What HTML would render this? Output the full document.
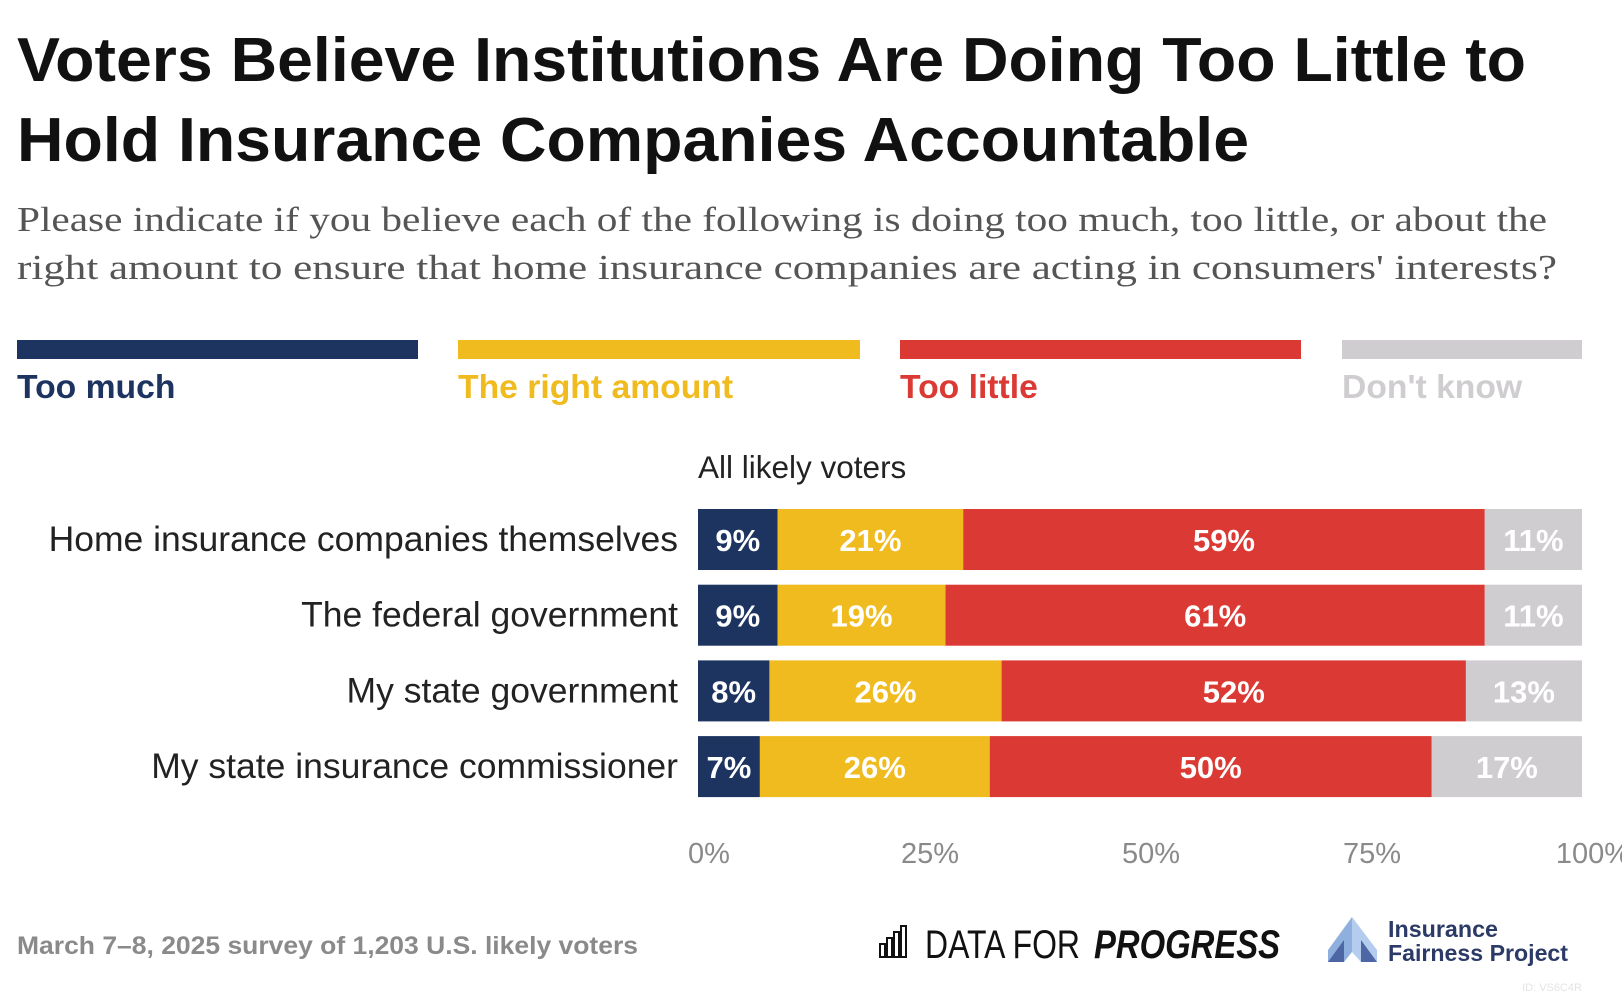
<!DOCTYPE html>
<html><head><meta charset="utf-8">
<style>
html,body{margin:0;padding:0;background:#fff;}
svg{display:block;font-family:"Liberation Sans",sans-serif;}
</style></head>
<body>
<svg id="chart" width="1622" height="998" viewBox="0 0 1622 998" xmlns="http://www.w3.org/2000/svg">
  <text x="17" y="81" font-size="62" font-weight="bold" fill="#111" textLength="1509" lengthAdjust="spacingAndGlyphs">Voters Believe Institutions Are Doing Too Little to</text>
  <text x="17" y="161" font-size="62" font-weight="bold" fill="#111" textLength="1232" lengthAdjust="spacingAndGlyphs">Hold Insurance Companies Accountable</text>
  <text x="17" y="231" font-size="35" fill="#555" font-family="Liberation Serif, serif" textLength="1530" lengthAdjust="spacingAndGlyphs">Please indicate if you believe each of the following is doing too much, too little, or about the</text>
  <text x="17" y="279" font-size="35" fill="#555" font-family="Liberation Serif, serif" textLength="1540" lengthAdjust="spacingAndGlyphs">right amount to ensure that home insurance companies are acting in consumers' interests?</text>
  <g id="legend"></g>
  <text x="698" y="478" font-size="31.5" fill="#222">All likely voters</text>
  <g id="bars"></g>
  <g id="axis"></g>
  <text x="17" y="954" font-size="25" font-weight="bold" fill="#8a8a8a" textLength="621" lengthAdjust="spacingAndGlyphs">March 7–8, 2025 survey of 1,203 U.S. likely voters</text>
  <g>
    <g fill="none" stroke="#111" stroke-width="2">
      <rect x="880" y="944" width="5" height="13"/>
      <rect x="887" y="938" width="5" height="19"/>
      <rect x="894" y="932" width="5" height="25"/>
      <rect x="901" y="926" width="5" height="31"/>
    </g>
    <text x="925" y="958" font-size="40" fill="#111" textLength="155" lengthAdjust="spacingAndGlyphs" font-weight="normal">DATA FOR</text>
    <text x="1094" y="958" font-size="40" fill="#111" font-weight="bold" font-style="italic" textLength="186" lengthAdjust="spacingAndGlyphs">PROGRESS</text>
  </g>
  <g>
    <polygon points="1352,917 1328,950 1328,962 1352,962" fill="#8fb0de"/>
    <polygon points="1352,917 1377,950 1377,962 1352,962" fill="#b4cdee"/>
    <polygon points="1328,962 1344,940 1344,962" fill="#4e66a4"/>
    <polygon points="1377,962 1361,940 1361,962" fill="#4e66a4"/>
    <polygon points="1344,962 1352,952 1361,962" fill="#fff"/>
    <text x="1388" y="937" font-size="23" font-weight="bold" fill="#2b3a67" textLength="110" lengthAdjust="spacingAndGlyphs">Insurance</text>
    <text x="1388" y="961" font-size="23" font-weight="bold" fill="#2b3a67" textLength="180" lengthAdjust="spacingAndGlyphs">Fairness Project</text>
  </g>
  <text x="1582" y="991" font-size="11" fill="#e4e4e4" text-anchor="end">ID: VS6C4R</text>
</svg>
<script>
const categories = ["Home insurance companies themselves","The federal government","My state government","My state insurance commissioner"];
const seriesNames = ["Too much","The right amount","Too little","Don't know"];
const tooMuch = [9, 9, 8, 7];
const rightAmount = [21, 19, 26, 26];
const tooLittle = [59, 61, 52, 50];
const dontKnow = [11, 11, 13, 17];
const tickValues = [0, 25, 50, 75, 100];
const tickLabels = ["0%","25%","50%","75%","100%"];

const NS = "http://www.w3.org/2000/svg";
const colors = ["#1d3461","#f0bb1e","#db3a34","#d0cdd1"];
const X0 = 698, X1 = 1582, ROW0 = 509, ROWSTEP = 75.7, BARH = 61;
const xScale = v => X0 + (v / 100) * (X1 - X0);
function mk(tag, attrs, parent){ const e=document.createElementNS(NS,tag); for(const k in attrs) e.setAttribute(k,attrs[k]); parent.appendChild(e); return e; }

const legend = document.getElementById("legend");
const legX = [17, 458, 900, 1342], legW = [401, 402, 401, 240];
seriesNames.forEach((n,i)=>{
  const r = mk("rect",{x:legX[i],y:340,width:legW[i],height:19,fill:colors[i]},legend);
  
  
  const t = mk("text",{x:legX[i],y:398,"font-size":33.7,"font-weight":"bold",fill:colors[i]},legend);
  t.textContent = n;
  
  
});

const bars = document.getElementById("bars");
const series = [tooMuch, rightAmount, tooLittle, dontKnow];
categories.forEach((c,i)=>{
  const y = ROW0 + i*ROWSTEP;
  const lab = mk("text",{x:678,y:y+42,"font-size":35.5,fill:"#222","text-anchor":"end"},bars);
  lab.textContent = c;
  
  
  const total = series.reduce((s,a)=>s+a[i],0);
  let cum = 0;
  series.forEach((arr,j)=>{
    const v = arr[i]/total*100;
    const xa = xScale(cum), xb = xScale(cum+v);
    const r = mk("rect",{x:xa,y:y,width:xb-xa,height:BARH,fill:colors[j]},bars);
    
    
    const t = mk("text",{x:(xa+xb)/2,y:y+42,"font-size":31,"font-weight":"bold",fill:"#fff","text-anchor":"middle"},bars);
    t.textContent = arr[i] + "%";
    
    
    cum += v;
  });
});

const axis = document.getElementById("axis");
tickValues.forEach((v,i)=>{
  const t = mk("text",{x:xScale(v)+11,y:863,"font-size":29,fill:"#8a8a8a","text-anchor":"middle"},axis);
  t.textContent = tickLabels[i];
  
  
});
</script>
</body></html>
